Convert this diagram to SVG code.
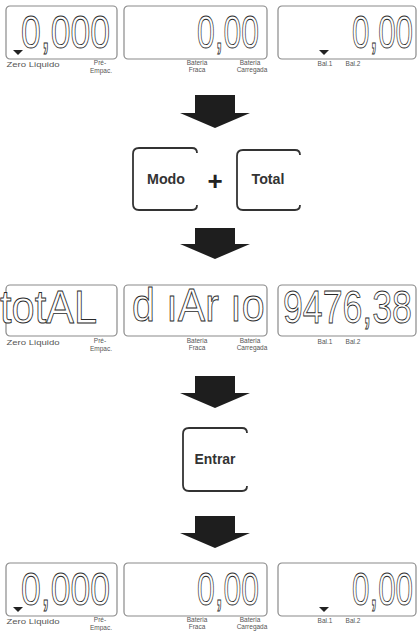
<svg xmlns="http://www.w3.org/2000/svg" width="419" height="631" viewBox="0 0 419 631">
<style>
.box{fill:#fff;stroke:#8a8a8a;stroke-width:1.2}
.lcd{font-family:"Liberation Sans",Arial,sans-serif;font-size:47px;fill:#fff;stroke:#2a2a2a;stroke-width:0.9}
.lbl{font-family:"Liberation Sans",Arial,sans-serif;font-size:6.5px;fill:#555;text-anchor:middle}
.tri{fill:#222}
.key{fill:#fff;stroke:#333;stroke-width:1.8}
.kt{font-family:"Liberation Sans",Arial,sans-serif;font-size:15px;font-weight:bold;fill:#333;text-anchor:middle}
.arr{fill:#1e1e1e}
</style>
<defs>
<g id="lbls">
<text class="lbl" x="33" y="67" textLength="53" lengthAdjust="spacingAndGlyphs">Zero Liquido</text>
<text class="lbl" x="100" y="65">Pré-</text>
<text class="lbl" x="101" y="73">Empac.</text>
<text class="lbl" x="197" y="65">Bateria</text>
<text class="lbl" x="197" y="72">Fraca</text>
<text class="lbl" x="250" y="65">Bateria</text>
<text class="lbl" x="252" y="72">Carregada</text>
<text class="lbl" x="325" y="66">Bal.1</text>
<text class="lbl" x="353" y="66">Bal.2</text>
</g>
</defs>

<g id="row1">
<g id="display-1a"><rect class="box" x="6" y="6" width="111" height="53" rx="4"/><polygon class="tri" points="13,50 23,50 18,55"/><text class="lcd" transform="translate(21,48) scale(0.757,1)">0,000</text></g>
<g id="display-1b"><rect class="box" x="124" y="6" width="143" height="53" rx="4"/><text class="lcd" transform="translate(197,48) scale(0.678,1)">0,00</text></g>
<g id="display-1c"><rect class="box" x="278" y="6" width="138" height="53" rx="4"/><polygon class="tri" points="319,50 329,50 324,55"/><text class="lcd" transform="translate(352,48) scale(0.667,1)">0,00</text></g>
<use href="#lbls"/>
</g>

<g id="btn-modo"><path class="key" d="M197,153 Q197,148 192,148 H139 Q133,148 133,154 V204 Q133,210 139,210 H192 Q197,210 197,205"/><text class="kt" x="166" y="184" textLength="38" lengthAdjust="spacingAndGlyphs">Modo</text></g>
<g id="plus"><text x="215" y="189.5" font-family="Liberation Sans,Arial,sans-serif" font-size="26" font-weight="bold" fill="#222" text-anchor="middle">+</text></g>
<g id="btn-total"><path class="key" d="M300,155 Q300,150 295,150 H243 Q237,150 237,156 V204 Q237,210 243,210 H295 Q300,210 300,205"/><text class="kt" x="268" y="184" textLength="33" lengthAdjust="spacingAndGlyphs">Total</text></g>

<g id="row2">
<g id="display-2a"><rect class="box" x="6" y="285" width="111" height="51" rx="4"/><text class="lcd" transform="translate(0,323) scale(0.884,1)">totAL</text></g>
<g id="display-2b"><rect class="box" x="124" y="285" width="143" height="51" rx="4"/><text class="lcd" transform="translate(132,321) scale(0.875,1)">d ıAr ıo</text></g>
<g id="display-2c"><rect class="box" x="278" y="285" width="138" height="51" rx="4"/><text class="lcd" transform="translate(283,323) scale(0.759,1)">9476,38</text></g>
<use href="#lbls" transform="translate(0,278)"/>
</g>

<g id="btn-entrar"><path class="key" d="M247,433 Q247,428 242,428 H189 Q183,428 183,434 V485 Q183,491 189,491 H242 Q247,491 247,486"/><text class="kt" x="215" y="464" textLength="41" lengthAdjust="spacingAndGlyphs">Entrar</text></g>

<g id="row3" transform="translate(0,557)">
<g id="display-3a"><rect class="box" x="6" y="6" width="111" height="53" rx="4"/><polygon class="tri" points="13,50 23,50 18,55"/><text class="lcd" transform="translate(21,48) scale(0.757,1)">0,000</text></g>
<g id="display-3b"><rect class="box" x="124" y="6" width="143" height="53" rx="4"/><text class="lcd" transform="translate(197,48) scale(0.678,1)">0,00</text></g>
<g id="display-3c"><rect class="box" x="278" y="6" width="138" height="53" rx="4"/><polygon class="tri" points="319,50 329,50 324,55"/><text class="lcd" transform="translate(352,48) scale(0.667,1)">0,00</text></g>
<use href="#lbls"/>
</g>

<g id="connectors">
<polygon class="arr" points="195,95 235,95 235,113 250,113 215,128 180,113 195,113"/>
<polygon class="arr" points="195,228 235,228 235,244 250,244 215,259 180,244 195,244"/>
<polygon class="arr" points="195,376 235,376 235,393 250,393 215,408 180,393 195,393"/>
<polygon class="arr" points="195,516 235,516 235,533 250,533 215,548 180,533 195,533"/>
</g>
</svg>
